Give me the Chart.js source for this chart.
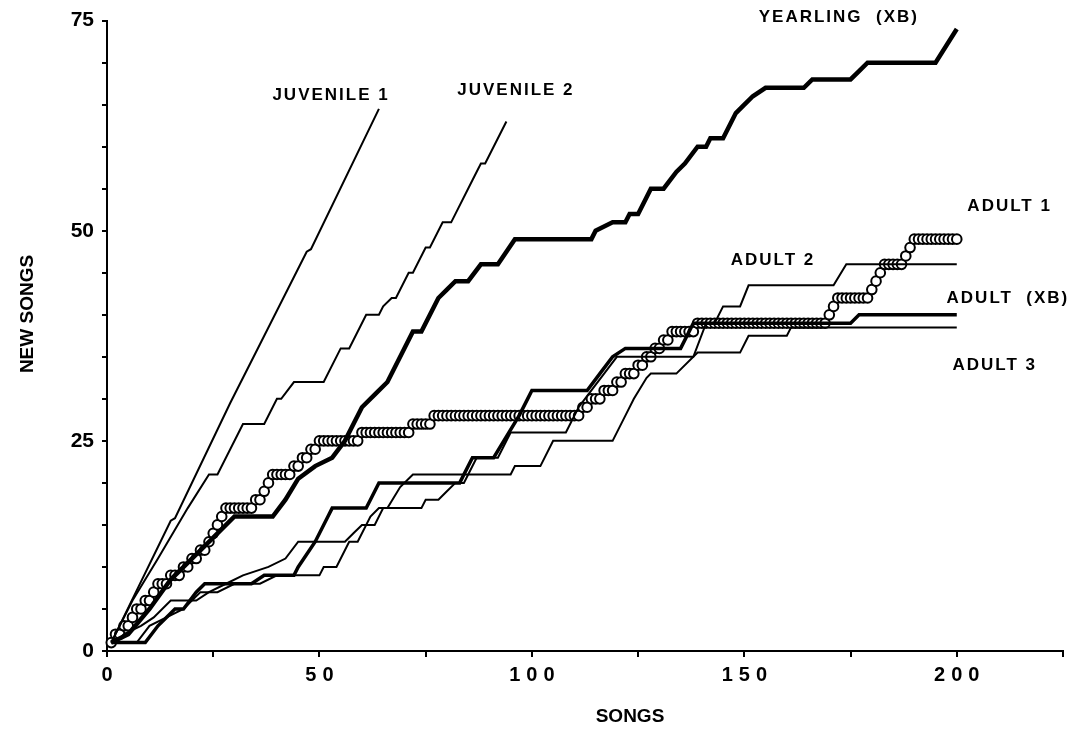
<!DOCTYPE html>
<html>
<head>
<meta charset="utf-8">
<script src="https://cdn.jsdelivr.net/npm/chart.js@4.4.1/dist/chart.umd.min.js"></script>
<style>
  html, body { margin: 0; padding: 0; background: #fff; }
  #wrap { width: 1080px; height: 729px; }
</style>
</head>
<body>
<div id="wrap"><canvas id="grafica" width="1080" height="729"></canvas></div>
<script>
// Corner points of each cumulative curve (song number, new songs so far)
const juvenile1Songs = [1, 15, 16, 29, 36, 47, 48, 64];
const juvenile1New   = [1, 15.5, 15.8, 29.5, 36.5, 47.5, 47.8, 64.5];

const juvenile2Songs = [1, 6, 12, 19, 24, 26, 32, 37, 40, 41, 44, 51, 55, 57, 61, 64, 65, 67, 68, 71, 72, 75, 76, 79, 81, 86, 88, 89, 94];
const juvenile2New   = [1, 6, 11, 17, 21, 21, 27, 27, 30, 30, 32, 32, 36, 36, 40, 40, 41, 42, 42, 45, 45, 48, 48, 51, 51, 56, 58, 58, 63];

const yearlingSongs = [1, 5, 10, 15, 20, 25, 30, 39, 42, 45, 49, 53, 56, 60, 63, 66, 72, 74, 78, 80, 82, 85, 88, 92, 96, 114, 115, 119, 122, 123, 125, 128, 131, 134, 136, 139, 141, 142, 145, 148, 150, 152, 155, 164, 166, 175, 177, 179, 195, 200];
const yearlingNew   = [1, 2, 5, 8.5, 11, 13.5, 16, 16, 18, 20.5, 22, 23, 25, 29, 30.5, 32, 38, 38, 42, 43, 44, 44, 46, 46, 49, 49, 50, 51, 51, 52, 52, 55, 55, 57, 58, 60, 60, 61, 61, 64, 65, 66, 67, 67, 68, 68, 69, 70, 70, 74];

const adultXBSongs = [1, 9, 12, 16, 18, 21, 23, 34, 37, 44, 45, 49, 52, 53, 61, 62, 64, 83, 86, 91, 97, 99, 100, 113, 116, 119, 122, 135, 138, 175, 177, 200];
const adultXBNew   = [1, 1, 3, 5, 5, 7, 8, 8, 9, 9, 10, 13, 16, 17, 17, 18, 20, 20, 23, 23, 28, 30, 31, 31, 33, 35, 36, 36, 39, 39, 40, 40];

const adult2Songs = [2, 4, 8, 11, 15, 21, 24, 28, 32, 38, 42, 45, 56, 58, 60, 63, 65, 74, 75, 78, 80, 82, 84, 87, 92, 95, 108, 111, 114, 117, 120, 138, 141, 143, 145, 149, 151, 171, 174, 200];
const adult2New   = [1, 2, 3, 4, 6, 6, 7, 8, 9, 10, 11, 13, 13, 14, 15, 15, 17, 17, 18, 18, 19, 20, 20, 23, 23, 26, 26, 29, 31, 33, 35, 35, 39, 39, 41, 41, 43.5, 43.5, 46, 46];

const adult3Songs = [3, 7, 10, 14, 18, 22, 26, 30, 36, 40, 50, 51, 54, 57, 59, 62, 64, 66, 69, 72, 95, 96, 102, 105, 119, 122, 124, 127, 128, 134, 139, 149, 151, 160, 161, 200];
const adult3New   = [1, 1, 3, 4, 5, 7, 7, 8, 8, 9, 9, 10, 10, 13, 13, 16, 17, 17, 19.5, 21, 21, 22, 22, 25, 25, 28, 30, 32.5, 33, 33, 35.5, 35.5, 37.5, 37.5, 38.5, 38.5];

// Adult 1 is plotted song by song (songs 1..200)
const adult1New = [
  1, 2, 2, 3, 3, 4, 5, 5, 6, 6,
  7, 8, 8, 8, 9, 9, 9, 10, 10, 11,
  11, 12, 12, 13, 14, 15, 16, 17, 17, 17,
  17, 17, 17, 17, 18, 18, 19, 20, 21, 21,
  21, 21, 21, 22, 22, 23, 23, 24, 24, 25,
  25, 25, 25, 25, 25, 25, 25, 25, 25, 26,
  26, 26, 26, 26, 26, 26, 26, 26, 26, 26,
  26, 27, 27, 27, 27, 27, 28, 28, 28, 28,
  28, 28, 28, 28, 28, 28, 28, 28, 28, 28,
  28, 28, 28, 28, 28, 28, 28, 28, 28, 28,
  28, 28, 28, 28, 28, 28, 28, 28, 28, 28,
  28, 29, 29, 30, 30, 30, 31, 31, 31, 32,
  32, 33, 33, 33, 34, 34, 35, 35, 36, 36,
  37, 37, 38, 38, 38, 38, 38, 38, 39, 39,
  39, 39, 39, 39, 39, 39, 39, 39, 39, 39,
  39, 39, 39, 39, 39, 39, 39, 39, 39, 39,
  39, 39, 39, 39, 39, 39, 39, 39, 39, 40,
  41, 42, 42, 42, 42, 42, 42, 42, 42, 43,
  44, 45, 46, 46, 46, 46, 46, 47, 48, 49,
  49, 49, 49, 49, 49, 49, 49, 49, 49, 49
];

const xTickLabels = [0, 50, 100, 150, 200];
const yTickLabels = [0, 25, 50, 75];

// Curve names placed at (songs, new songs)
const seriesLabels = [
  { text: 'JUVENILE 1',    x: 52.5,  y: 66.1 },
  { text: 'JUVENILE 2',    x: 96,    y: 66.7 },
  { text: 'YEARLING  (XB)', x: 172,  y: 75.4 },
  { text: 'ADULT 1',       x: 212.2, y: 52.9 },
  { text: 'ADULT 2',       x: 156.5, y: 46.5 },
  { text: 'ADULT  (XB)',   x: 211.8, y: 42 },
  { text: 'ADULT 3',       x: 208.7, y: 34 }
];

const fuente = '"Liberation Sans", Arial, Helvetica, sans-serif';

function puntos(xs, ys) {
  return xs.map((x, i) => ({ x: x, y: ys[i] }));
}

function linea(label, xs, ys, grosor) {
  return {
    label: label,
    data: puntos(xs, ys),
    borderColor: '#000',
    borderWidth: grosor,
    pointRadius: 0,
    fill: false,
    tension: 0,
    clip: false,
    order: 1
  };
}

const adult1Data = adult1New.map((y, i) => ({ x: i + 1, y: y }));

const textos = {
  id: 'textos',
  afterDraw(chart) {
    const ctx = chart.ctx;
    const xs = chart.scales.x;
    const ys = chart.scales.y;
    const y0 = ys.getPixelForValue(0);
    ctx.save();
    ctx.fillStyle = '#000';

    // x tick labels, spaced out like the original
    ctx.font = 'bold 20px ' + fuente;
    ctx.letterSpacing = '6px';
    ctx.textAlign = 'center';
    ctx.textBaseline = 'middle';
    xTickLabels.forEach(v => {
      ctx.fillText(String(v), xs.getPixelForValue(v) + 3, y0 + 24);
    });

    // axis titles
    ctx.letterSpacing = '0px';
    ctx.font = 'bold 19px ' + fuente;
    ctx.fillText('SONGS', 630, y0 + 66);
    ctx.save();
    ctx.translate(28, 314);
    ctx.rotate(-Math.PI / 2);
    ctx.fillText('NEW SONGS', 0, 0);
    ctx.restore();

    // curve names
    ctx.font = 'bold 17px ' + fuente;
    ctx.letterSpacing = '2px';
    seriesLabels.forEach(l => {
      ctx.fillText(l.text, xs.getPixelForValue(l.x) + 1, ys.getPixelForValue(l.y));
    });
    ctx.restore();
  }
};

const ctx = document.getElementById('grafica').getContext('2d');
new Chart(ctx, {
  type: 'line',
  data: {
    datasets: [
      linea('Juvenile 1', juvenile1Songs, juvenile1New, 2),
      linea('Juvenile 2', juvenile2Songs, juvenile2New, 2),
      linea('Yearling (XB)', yearlingSongs, yearlingNew, 4.5),
      linea('Adult (XB)', adultXBSongs, adultXBNew, 3.5),
      linea('Adult 2', adult2Songs, adult2New, 2),
      linea('Adult 3', adult3Songs, adult3New, 2),
      {
        label: 'Adult 1',
        data: adult1Data,
        borderColor: '#000',
        borderWidth: 1.5,
        pointRadius: 4.8,
        pointBorderWidth: 2,
        pointBackgroundColor: '#fff',
        pointBorderColor: '#000',
        fill: false,
        tension: 0,
        clip: false,
        order: 10
      }
    ]
  },
  options: {
    responsive: false,
    animation: false,
    events: [],
    layout: { padding: { left: 0, right: 17, top: 20, bottom: 0 } },
    plugins: {
      legend: { display: false },
      tooltip: { enabled: false }
    },
    scales: {
      x: {
        type: 'linear',
        min: 0,
        max: 225,
        border: { color: '#000', width: 2 },
        grid: { drawOnChartArea: false, drawTicks: true, tickLength: 6, color: '#000', lineWidth: 2 },
        ticks: { stepSize: 25, callback: () => '', color: '#000' },
        afterFit(scale) { scale.height = 78; }
      },
      y: {
        type: 'linear',
        min: 0,
        max: 75,
        border: { color: '#000', width: 2 },
        grid: { drawOnChartArea: false, drawTicks: true, tickLength: 5, color: '#000', lineWidth: 2 },
        ticks: {
          stepSize: 5,
          padding: 8,
          color: '#000',
          font: { family: fuente, size: 21, weight: 'bold' },
          callback: v => (yTickLabels.includes(v) ? String(v) : '')
        },
        afterFit(scale) { scale.width = 107; }
      }
    }
  },
  plugins: [textos]
});
</script>
</body>
</html>
